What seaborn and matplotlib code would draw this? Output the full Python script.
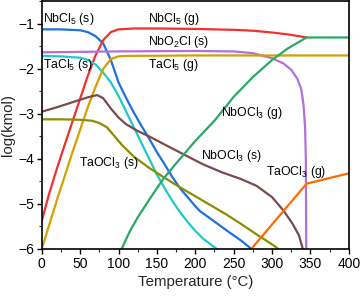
import pandas as pd
import matplotlib
matplotlib.use("Agg")
import matplotlib.pyplot as plt
from matplotlib.ticker import AutoMinorLocator, MultipleLocator
import seaborn as sns

# --- data (T in °C, log(kmol)) ---
nbcl5_s_T = [0, 25, 50, 60, 70, 80, 90, 100, 110, 120, 130, 140, 150, 160, 170, 180, 190, 200, 206, 220, 240, 260, 273]
nbcl5_s_y = [-1.12, -1.12, -1.14, -1.18, -1.27, -1.43, -1.8, -2.3, -2.65, -2.97, -3.27, -3.55, -3.85, -4.12, -4.4, -4.65, -4.85, -5.05, -5.16, -5.33, -5.58, -5.82, -6.0]

nbcl5_g_T = [0, 10, 20, 30, 40, 50, 60, 70, 80, 90, 100, 120, 150, 200, 250, 275, 300, 320, 345]
nbcl5_g_y = [-5.38, -4.75, -4.2, -3.68, -3.17, -2.66, -2.15, -1.7, -1.36, -1.18, -1.12, -1.1, -1.1, -1.11, -1.13, -1.15, -1.19, -1.23, -1.3]

nbo2cl_s_T = [0, 100, 200, 250, 275, 300, 315, 325, 333, 338, 341, 343, 344, 344.5]
nbo2cl_s_y = [-1.63, -1.61, -1.6, -1.61, -1.65, -1.76, -1.88, -2.02, -2.22, -2.45, -2.8, -3.3, -4.0, -6.0]

tacl5_s_T = [0, 25, 50, 60, 70, 80, 90, 100, 110, 120, 130, 140, 150, 160, 170, 180, 190, 200, 210, 220, 228]
tacl5_s_y = [-1.71, -1.72, -1.75, -1.8, -1.9, -2.08, -2.3, -2.6, -2.95, -3.3, -3.65, -4.0, -4.35, -4.65, -4.93, -5.18, -5.4, -5.6, -5.77, -5.9, -6.0]

tacl5_g_T = [0, 10, 20, 30, 40, 50, 60, 70, 80, 90, 100, 110, 200, 300, 400]
tacl5_g_y = [-6.0, -5.45, -4.9, -4.38, -3.85, -3.35, -2.85, -2.4, -2.0, -1.78, -1.72, -1.71, -1.7, -1.7, -1.7]

nbocl3_s_T = [0, 20, 40, 60, 72, 80, 90, 100, 110, 125, 140, 160, 185, 210, 235, 260, 280, 300, 315, 327, 335, 340]
nbocl3_s_y = [-2.95, -2.85, -2.74, -2.63, -2.58, -2.65, -2.88, -3.08, -3.23, -3.38, -3.5, -3.68, -3.9, -4.12, -4.3, -4.45, -4.6, -4.85, -5.15, -5.45, -5.7, -6.0]

taocl3_s_T = [0, 25, 50, 65, 75, 85, 95, 105, 120, 140, 160, 180, 200, 220, 240, 260, 280, 300, 308]
taocl3_s_y = [-3.12, -3.12, -3.13, -3.15, -3.2, -3.3, -3.5, -3.7, -3.95, -4.2, -4.42, -4.63, -4.83, -5.03, -5.23, -5.45, -5.68, -5.9, -6.0]

nbocl3_g_T = [104, 115, 125, 141, 158, 175, 200, 225, 250, 275, 300, 320, 345, 400]
nbocl3_g_y = [-6.0, -5.6, -5.3, -4.88, -4.45, -4.1, -3.6, -3.15, -2.62, -2.18, -1.8, -1.55, -1.3, -1.3]

taocl3_g_T = [273, 345, 400]
taocl3_g_y = [-6.0, -4.55, -4.32]

species = ["NbCl5 (s)", "NbCl5 (g)", "NbO2Cl (s)", "TaCl5 (s)", "TaCl5 (g)",
           "NbOCl3 (s)", "TaOCl3 (s)", "NbOCl3 (g)", "TaOCl3 (g)"]
colors = ["#1f6fe0", "#f23030", "#b070e0", "#22c8c8", "#d4a000",
          "#7b4a4a", "#8c8c00", "#2aa866", "#ff6a00"]

series = [(nbcl5_s_T, nbcl5_s_y), (nbcl5_g_T, nbcl5_g_y), (nbo2cl_s_T, nbo2cl_s_y),
          (tacl5_s_T, tacl5_s_y), (tacl5_g_T, tacl5_g_y), (nbocl3_s_T, nbocl3_s_y),
          (taocl3_s_T, taocl3_s_y), (nbocl3_g_T, nbocl3_g_y), (taocl3_g_T, taocl3_g_y)]

frames = []
for name, (T, y) in zip(species, series):
    frames.append(pd.DataFrame({"T": T, "logn": y, "species": name}))
df = pd.concat(frames, ignore_index=True)

# labels (text, T, y)
labels = [
    ("NbCl$_\\mathregular{5}$ (s)", 2, -0.89),
    ("NbCl$_\\mathregular{5}$ (g)", 138, -0.89),
    ("NbO$_\\mathregular{2}$Cl (s)", 138, -1.39),
    ("TaCl$_\\mathregular{5}$ (s)", 2, -1.91),
    ("TaCl$_\\mathregular{5}$ (g)", 138, -1.91),
    ("NbOCl$_\\mathregular{3}$ (g)", 234, -2.98),
    ("NbOCl$_\\mathregular{3}$ (s)", 207, -3.94),
    ("TaOCl$_\\mathregular{3}$ (g)", 292, -4.3),
    ("TaOCl$_\\mathregular{3}$ (s)", 48, -4.1),
]

sns.set_theme(style="ticks")
plt.rcParams["font.family"] = ["Liberation Sans", "DejaVu Sans"]
plt.rcParams["mathtext.fontset"] = "custom"
plt.rcParams["mathtext.rm"] = "Liberation Sans"
plt.rcParams["mathtext.it"] = "Liberation Sans:italic"

fig, ax = plt.subplots(figsize=(3.6, 2.97), dpi=100)
fig.subplots_adjust(left=0.116, right=0.969, top=0.995, bottom=0.162)

sns.lineplot(data=df, x="T", y="logn", hue="species", palette=colors,
             hue_order=species, estimator=None, sort=False, linewidth=1.6,
             legend=False, ax=ax)

for txt, tx, ty in labels:
    ax.text(tx, ty, txt, fontsize=8.8, va="center", ha="left", color="black")

ax.set_xlim(0, 400)
ax.set_ylim(-6, -0.5)
ax.xaxis.set_major_locator(MultipleLocator(50))
ax.yaxis.set_major_locator(MultipleLocator(1))
ax.xaxis.set_minor_locator(AutoMinorLocator(2))
ax.yaxis.set_minor_locator(AutoMinorLocator(2))
ax.tick_params(which="major", length=3.5, width=1, labelsize=10, colors="black", pad=2)
ax.tick_params(which="minor", length=2, width=0.8)
for s in ax.spines.values():
    s.set_color("black")
    s.set_linewidth(1.2)
ax.set_xlabel("Temperature (°C)", fontsize=10.8, labelpad=3)
ax.set_ylabel("log(kmol)", fontsize=10.8, labelpad=2)

fig.savefig("out.png", dpi=100)
